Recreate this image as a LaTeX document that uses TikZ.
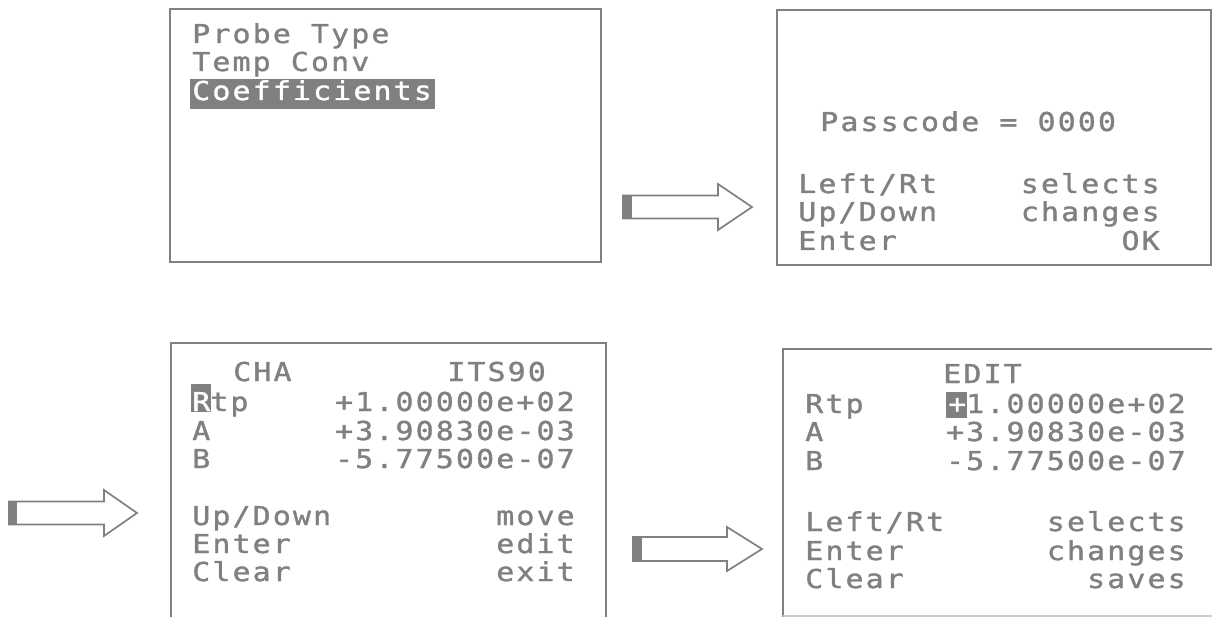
\documentclass[tikz,border=0pt]{standalone}
\usepackage{fontspec}
\usepackage{xcolor}
\usepackage{tikz}
\usetikzlibrary{positioning}
\newfontfamily\lcdfont[FakeStretch=1.15,LetterSpace=8.2,FakeBold=1.3]{DejaVu Sans Mono}
\definecolor{lcdgray}{RGB}{128,128,128}
\definecolor{edgegray}{RGB}{205,205,205}

\begin{document}
\begin{tikzpicture}[x=0.025cm, y=-0.025cm]
        % Styles
        \tikzstyle{screen} = [draw=lcdgray, line width=1.4pt]
        \tikzstyle{lcd} = [font=\lcdfont\fontsize{18.5}{20}\selectfont,
        text=lcdgray, inner sep=0pt]
        \tikzstyle{lcdl} = [lcd, anchor=base west]
        \tikzstyle{lcdr} = [lcd, anchor=base east]
        \tikzstyle{blockarrow} = [draw=lcdgray, line width=1.2pt, fill=white]

        \useasboundingbox (0,0) rectangle (1212,617);

        % Screens
        \draw[screen] (170,9) rectangle (601,262);
        \draw[screen] (777,10) rectangle (1211,265);
        \draw[screen] (171,617) -- (171,343) -- (606,343) -- (606,617);
        \draw[screen] (1212,349) -- (783,349) -- (783,617);
        \draw[edgegray, line width=0.8pt] (783,616) -- (1212,616);

        % Highlights
        \fill[lcdgray] (190,79) rectangle (435,109);
        \fill[lcdgray] (191,384) rectangle (211,412);
        \fill[lcdgray] (946,392) rectangle (967,418);

        % Nodes: menu
        \node (probe) [lcdl] at (192,43) {Probe Type};
        \node (temp) [lcdl] at (192,71) {Temp Conv};
        \node (coef) [lcdl, text=white] at (192,100) {Coefficients};

        % Nodes: passcode
        \node (pass) [lcdl] at (820,131) {Passcode = 0000};
        \node (pleft) [lcdl] at (798,193) {Left/Rt};
        \node (pup) [lcdl] at (798,221) {Up/Down};
        \node (penter) [lcdl] at (798,250) {Enter};
        \node (psel) [lcdr] at (1160,193) {selects};
        \node (pchg) [lcdr] at (1160,221) {changes};
        \node (pok) [lcdr] at (1160,250) {OK};

        % Nodes: coefficient list
        \node (cha) [lcdl] at (233,381) {CHA};
        \node (its) [lcdl] at (447,381) {ITS90};
        \node (lrtp) [lcdl] at (192,411) {\textcolor{white}{R}tp};
        \node (la) [lcdl] at (192,440) {A};
        \node (lb) [lcdl] at (192,468) {B};
        \node (lrtpval) [lcdr] at (575,411) {+1.00000e+02};
        \node (laval) [lcdr] at (575,440) {+3.90830e-03};
        \node (lbval) [lcdr] at (575,468) {-5.77500e-07};
        \node (lup) [lcdl] at (192,525) {Up/Down};
        \node (lenter) [lcdl] at (192,553) {Enter};
        \node (lclear) [lcdl] at (192,581) {Clear};
        \node (lmove) [lcdr] at (575,525) {move};
        \node (ledit) [lcdr] at (575,553) {edit};
        \node (lexit) [lcdr] at (575,581) {exit};

        % Nodes: edit
        \node (edit) [lcdl] at (943,383) {EDIT};
        \node (ertp) [lcdl] at (805,413) {Rtp};
        \node (ea) [lcdl] at (805,441) {A};
        \node (eb) [lcdl] at (805,470) {B};
        \node (ertpval) [lcdr] at (1186,413) {\textcolor{white}{+}1.00000e+02};
        \node (eaval) [lcdr] at (1186,441) {+3.90830e-03};
        \node (ebval) [lcdr] at (1186,470) {-5.77500e-07};
        \node (eleft) [lcdl] at (805,531) {Left/Rt};
        \node (eenter) [lcdl] at (805,560) {Enter};
        \node (eclear) [lcdl] at (805,588) {Clear};
        \node (esel) [lcdr] at (1186,531) {selects};
        \node (echg) [lcdr] at (1186,560) {changes};
        \node (esave) [lcdr] at (1186,588) {saves};

        % Arrows
        \coordinate (tailA) at (623,207);
        \coordinate (tailB) at (9,513);
        \coordinate (tailC) at (633,549);
        \draw[blockarrow] (tailA) ++(0,-11.5) -- ++(95,0) -- ++(0,-11.5) -- ++(34,23) -- ++(-34,23) -- ++(0,-11.5) -- ++(-95,0) -- cycle;
        \fill[lcdgray] (tailA) ++(0,-11.5) rectangle ++(9,23);
        \draw[blockarrow] (tailB) ++(0,-11.5) -- ++(95,0) -- ++(0,-11.5) -- ++(33,23) -- ++(-33,23) -- ++(0,-11.5) -- ++(-95,0) -- cycle;
        \fill[lcdgray] (tailB) ++(0,-11.5) rectangle ++(8,23);
        \draw[blockarrow] (tailC) ++(0,-12) -- ++(94,0) -- ++(0,-10) -- ++(35,22) -- ++(-35,22) -- ++(0,-10) -- ++(-94,0) -- cycle;
        \fill[lcdgray] (tailC) ++(0,-12) rectangle ++(9,24);
\end{tikzpicture}
\end{document}
